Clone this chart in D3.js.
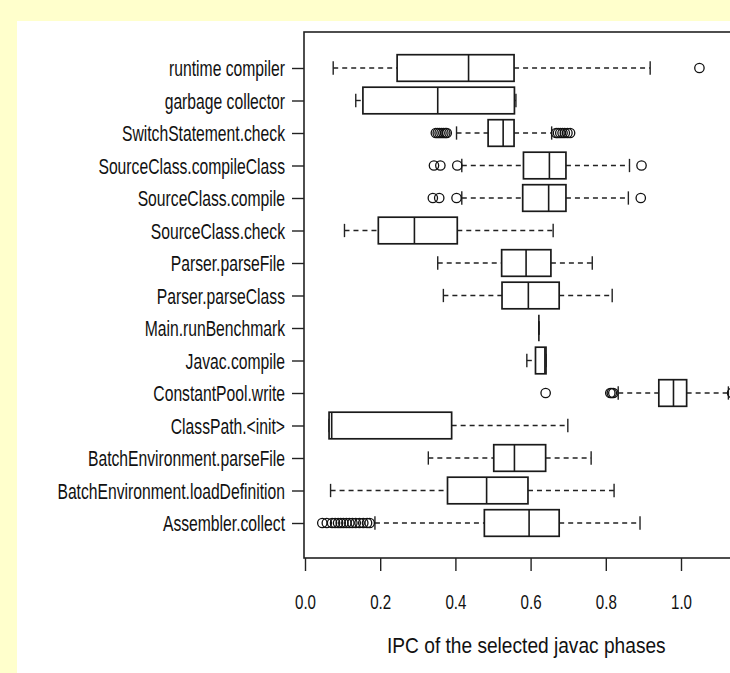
<!DOCTYPE html>
<html>
<head>
<meta charset="utf-8">
<script src="https://cdn.jsdelivr.net/npm/d3@7"></script>
<style>
  body { margin: 0; background: #ffffcc; }
  svg { display: block; }
  text { font-family: "Liberation Sans", Arial, sans-serif; fill: #111; }
</style>
</head>
<body>
<svg id="chart" width="730" height="673"></svg>
<script>
// javac phases boxplot (IPC)

var categories = ['runtime compiler', 'garbage collector', 'SwitchStatement.check',
	'SourceClass.compileClass', 'SourceClass.compile', 'SourceClass.check',
	'Parser.parseFile', 'Parser.parseClass', 'Main.runBenchmark', 'Javac.compile',
	'ConstantPool.write', 'ClassPath.<init>', 'BatchEnvironment.parseFile',
	'BatchEnvironment.loadDefinition', 'Assembler.collect'];

// whisker low, lower hinge, median, upper hinge, whisker high
var whiskLo = [0.075, 0.135, 0.403, 0.417, 0.417, 0.105, 0.353, 0.368, 0.622, 0.590, 0.833, 0.064, 0.328, 0.068, 0.186];
var q1      = [0.245, 0.154, 0.487, 0.581, 0.579, 0.195, 0.523, 0.524, 0.622, 0.613, 0.941, 0.064, 0.502, 0.379, 0.477];
var median  = [0.435, 0.353, 0.527, 0.650, 0.648, 0.291, 0.588, 0.594, 0.622, 0.638, 0.980, 0.071, 0.557, 0.483, 0.596];
var q3      = [0.556, 0.557, 0.556, 0.694, 0.694, 0.405, 0.654, 0.676, 0.622, 0.641, 1.015, 0.390, 0.640, 0.593, 0.676];
var whiskHi = [0.918, 0.561, 0.656, 0.863, 0.860, 0.660, 0.764, 0.817, 0.622, 0.641, 1.126, 0.699, 0.761, 0.822, 0.891];

var outliers = [
	[1.049],
	[],
	[0.348, 0.353, 0.358, 0.363, 0.368, 0.373, 0.377, 0.668, 0.673, 0.679, 0.685, 0.691, 0.698, 0.705],
	[0.343, 0.360, 0.405, 0.895],
	[0.340, 0.357, 0.403, 0.893],
	[], [], [], [], [],
	[0.640, 0.812, 0.816, 0.820, 1.136],
	[], [], [],
	[0.046, 0.058, 0.072, 0.080, 0.088, 0.095, 0.102, 0.110, 0.118, 0.126, 0.135, 0.145, 0.155, 0.165, 0.172]
];

var xTicks = [0, 0.2, 0.4, 0.6, 0.8, 1.0];
var xTitle = 'IPC of the selected javac phases';

var svg = d3.select('#chart');

// white panel on the yellow page
svg.append('rect').attr('x', 17).attr('y', 21).attr('width', 730).attr('height', 673).attr('fill', '#fff');

var x = d3.scaleLinear().domain([0, 1]).range([305, 681]),
	y = d3.scalePoint().domain(categories).range([68, 523]),
	plotTop = 32, plotBottom = 558, plotLeft = 304,
	plotRight = x(1.18),
	boxH = 26.6;

// plot frame
svg.append('rect')
	.attr('x', plotLeft).attr('y', plotTop)
	.attr('width', plotRight - plotLeft).attr('height', plotBottom - plotTop)
	.attr('fill', 'none').attr('stroke', '#222').attr('stroke-width', 1.6);

var rows = svg.selectAll('g.row')
	.data(categories.map(function (c, i) {
		return {name: c, lo: whiskLo[i], q1: q1[i], med: median[i], q3: q3[i], hi: whiskHi[i], out: outliers[i]};
	}))
	.enter().append('g').attr('class', 'row')
	.attr('transform', function (d) { return 'translate(0,' + y(d.name) + ')'; });

// whiskers
rows.append('line')
	.attr('x1', function (d) { return x(d.lo); }).attr('x2', function (d) { return x(d.q1); })
	.attr('stroke', '#222').attr('stroke-width', 1.4).attr('stroke-dasharray', '5,4');
rows.append('line')
	.attr('x1', function (d) { return x(d.q3); }).attr('x2', function (d) { return x(d.hi); })
	.attr('stroke', '#222').attr('stroke-width', 1.4).attr('stroke-dasharray', '5,4');

// staples
rows.selectAll('line.staple')
	.data(function (d) { return [d.lo, d.hi]; })
	.enter().append('line').attr('class', 'staple')
	.attr('x1', function (v) { return x(v); }).attr('x2', function (v) { return x(v); })
	.attr('y1', -boxH / 4).attr('y2', boxH / 4)
	.attr('stroke', '#222').attr('stroke-width', 1.4);

// boxes
rows.append('rect')
	.attr('x', function (d) { return x(d.q1); })
	.attr('width', function (d) { return x(d.q3) - x(d.q1); })
	.attr('y', -boxH / 2).attr('height', boxH)
	.attr('fill', '#fff')
	.attr('stroke', function (d) { return d.q1 === d.q3 ? '#777' : '#1a1a1a'; })
	.attr('stroke-width', 1.7);

rows.append('line')
	.attr('x1', function (d) { return x(d.med); }).attr('x2', function (d) { return x(d.med); })
	.attr('y1', -boxH / 2).attr('y2', boxH / 2)
	.attr('stroke', '#1a1a1a').attr('stroke-width', 1.6);

// outliers
rows.selectAll('circle')
	.data(function (d) { return d.out; })
	.enter().append('circle')
	.attr('cx', function (v) { return x(v); })
	.attr('r', 4.7)
	.attr('fill', 'none').attr('stroke', '#111').attr('stroke-width', 1.3);

// axes
var xAxis = svg.append('g')
	.attr('transform', 'translate(0,' + plotBottom + ')')
	.call(d3.axisBottom(x).tickValues(xTicks).tickSize(13).tickFormat(d3.format('.1f')));
xAxis.select('.domain').remove();
xAxis.selectAll('line').attr('stroke', '#222').attr('stroke-width', 1.4);
xAxis.selectAll('text')
	.attr('y', 51).attr('dy', null)
	.attr('transform', 'scale(0.72,1)')
	.style('font-size', '21px');

var yAxis = svg.append('g')
	.attr('transform', 'translate(' + plotLeft + ',0)')
	.call(d3.axisLeft(y).tickSize(12));
yAxis.select('.domain').remove();
yAxis.selectAll('line').attr('stroke', '#222').attr('stroke-width', 1.4);
yAxis.selectAll('text')
	.attr('x', 0).attr('dy', '0.36em')
	.attr('transform', 'translate(-19,0) scale(0.73,1)')
	.style('font-size', '21.5px');

svg.append('text')
	.attr('text-anchor', 'middle')
	.attr('transform', 'translate(' + ((plotLeft + plotRight) / 2) + ',653) scale(0.87,1)')
	.style('font-size', '22px')
	.text(xTitle);
</script>
</body>
</html>
